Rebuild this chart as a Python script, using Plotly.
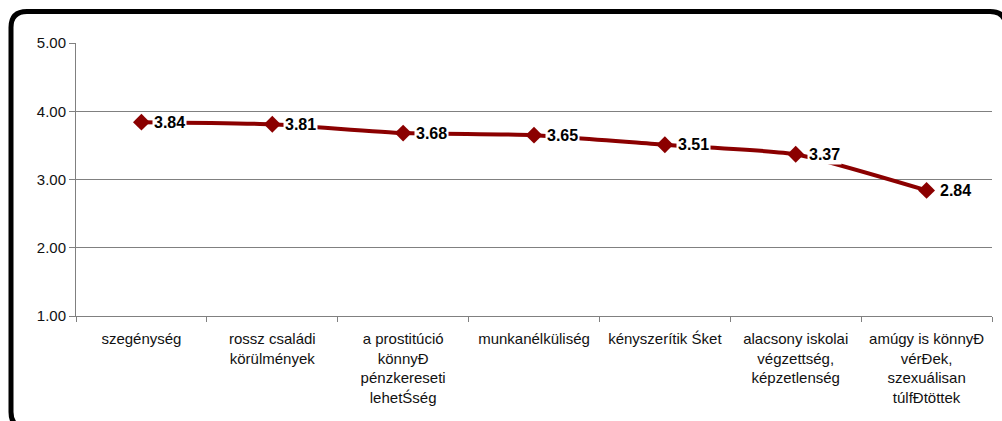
import plotly.graph_objects as go

categories = [
    "szegénység",
    "rossz családi<br>körülmények",
    "a prostitúció<br>könnyĐ<br>pénzkereseti<br>lehetŚség",
    "munkanélküliség",
    "kényszerítik Śket",
    "alacsony iskolai<br>végzettség,<br>képzetlenség",
    "amúgy is könnyĐ<br>vérĐek,<br>szexuálisan<br>túlfĐtöttek",
]
values = [3.84, 3.81, 3.68, 3.65, 3.51, 3.37, 2.84]
y_ticks = [1, 2, 3, 4, 5]

W, H = 1002, 421
ML, MR, MT, MB = 76, 10, 43, 105
PW, PH = W - ML - MR, H - MT - MB

LINE = "#8b0000"
FONT = "Liberation Sans, Arial, sans-serif"

fig = go.Figure()
fig.add_trace(go.Scatter(
    x=categories, y=values, mode="lines+markers",
    line=dict(color=LINE, width=4, shape="spline", smoothing=0.5),
    marker=dict(symbol="diamond", size=13, color=LINE),
    hoverinfo="skip", showlegend=False,
))

for c, v in zip(categories, values):
    fig.add_annotation(
        x=c, y=v, xref="x", yref="y", text=f"<b>{v:.2f}</b>",
        showarrow=False, xanchor="left", yanchor="middle", xshift=11,
        bgcolor="white", borderpad=1,
        font=dict(family=FONT, size=16, color="black"),
    )

# rounded outer frame (pixel -> paper conversion); only the visible
# edges (top, left, and the corners) are drawn
def px(x):
    return (x - ML) / PW

def py(y):
    return (MT + PH - y) / PH

x0, y0, x1, y1 = 11, 11.5, 1006, 428
rt, rb = 16, 16
path = (
    f"M {px(x1)} {py(y0 + rt)} Q {px(x1)} {py(y0)} {px(x1 - rt)} {py(y0)} "
    f"L {px(x0 + rt)} {py(y0)} Q {px(x0)} {py(y0)} {px(x0)} {py(y0 + rt)} "
    f"L {px(x0)} {py(y1 - rb)} Q {px(x0)} {py(y1)} {px(x0 + rb)} {py(y1)}"
)
fig.add_shape(type="path", path=path, xref="paper", yref="paper",
              line=dict(color="black", width=5), fillcolor="rgba(0,0,0,0)",
              layer="above")

fig.update_layout(
    width=W, height=H,
    margin=dict(l=ML, r=MR, t=MT, b=MB, pad=0),
    paper_bgcolor="white", plot_bgcolor="white",
    font=dict(family=FONT, size=14, color="black"),
)
fig.update_xaxes(
    type="category", range=[-0.5, len(categories) - 0.5],
    tickson="boundaries", ticks="outside", ticklen=5, ticklabelstandoff=9,
    tickcolor="#808080", showgrid=False, showline=True, linecolor="#808080",
    linewidth=1, tickfont=dict(size=15, color="#111111"), fixedrange=True,
    automargin=False,
)
fig.update_yaxes(
    range=[1, 5], tickvals=y_ticks, tickformat=".2f", ticks="outside",
    ticklen=6, tickcolor="#808080", showgrid=True, gridcolor="#808080",
    gridwidth=1, showline=True, linecolor="#808080", linewidth=1,
    tickfont=dict(size=15, color="#111111"), zeroline=False, fixedrange=True,
    automargin=False,
)

fig.write_html(
    "out.html",
    config={"displayModeBar": False},
    post_script="document.body.style.margin='0';"
                "document.documentElement.style.overflow='hidden';"
                "document.body.style.overflow='hidden';",
)
